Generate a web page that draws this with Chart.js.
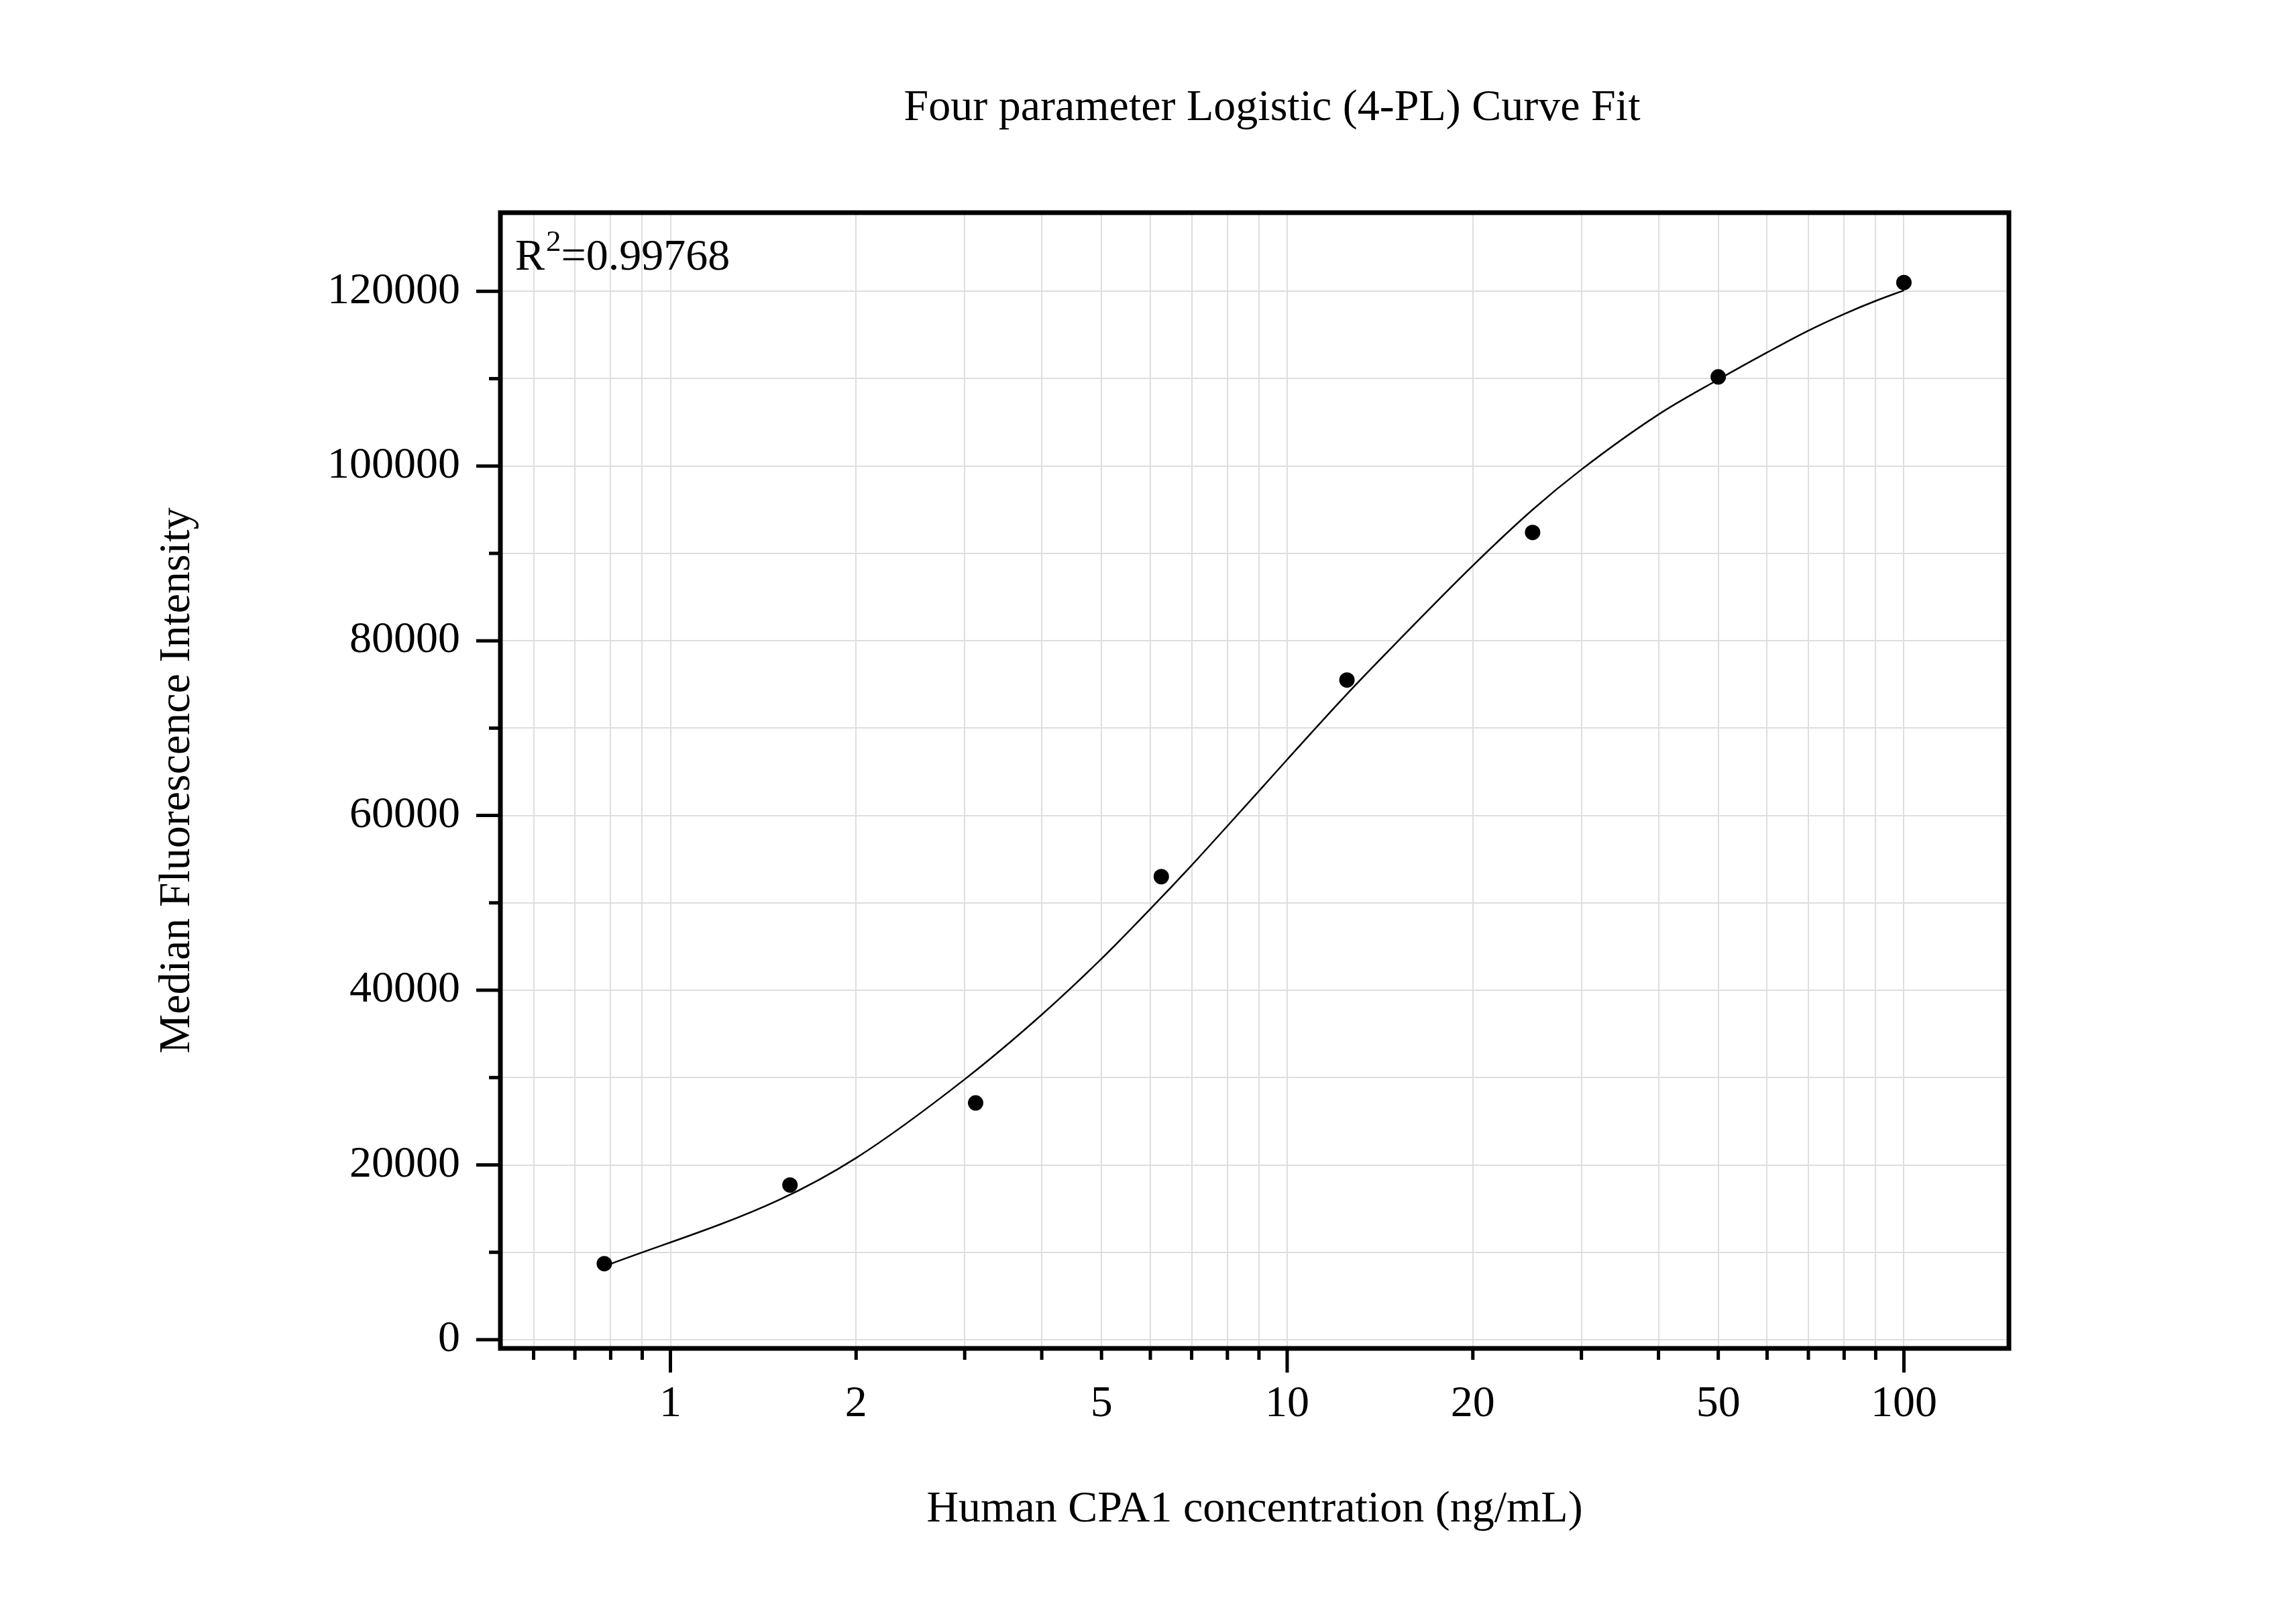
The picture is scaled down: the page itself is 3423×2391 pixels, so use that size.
<!DOCTYPE html>
<html>
<head>
<meta charset="UTF-8">
<title>Four parameter Logistic (4-PL) Curve Fit</title>
<script src="https://cdn.jsdelivr.net/npm/chart.js"></script>
<style>
  html, body { margin: 0; padding: 0; background: #fff; }
</style>
</head>
<body>
<canvas id="fitChart" width="3423" height="2391"></canvas>
<script>
// measured standards
const concentrations = [0.78125, 1.5625, 3.125, 6.25, 12.5, 25, 50, 100];
const intensities = [8700, 17700, 27100, 53000, 75500, 92400, 110200, 121000];

// fitted 4-PL curve
const curveX = [0.78125, 1.5, 2, 3, 4, 5, 6, 7, 8, 9, 10, 12.5, 15, 20, 25, 30, 40, 50, 60, 70, 80, 90, 100];
const curveY = [8400, 16000, 20800, 29800, 37200, 43600, 49300, 54300, 58800, 62800, 66400, 73900, 79700, 88600, 95000, 99600, 105900, 109900, 113000, 115500, 117400, 118900, 120100];

// axis ticks
const xGridValues = [0.6, 0.7, 0.8, 0.9, 1, 2, 3, 4, 5, 6, 7, 8, 9, 10, 20, 30, 40, 50, 60, 70, 80, 90, 100];
const xLabelValues = [1, 2, 5, 10, 20, 50, 100];
const xMajorValues = [1, 10, 100];
const yGridValues = [0, 10000, 20000, 30000, 40000, 50000, 60000, 70000, 80000, 90000, 100000, 110000, 120000];
const yLabelValues = [0, 20000, 40000, 60000, 80000, 100000, 120000];

const chartTitle = 'Four parameter Logistic (4-PL) Curve Fit';
const xTitle = 'Human CPA1 concentration (ng/mL)';
const yTitle = 'Median Fluorescence Intensity';
const rSquared = '0.99768';

const serif = '"Liberation Serif", "Times New Roman", serif';

const framePlugin = {
    id: 'frame',
    afterDraw(chart) {
        const { ctx, chartArea: a, scales } = chart;
        ctx.save();
        ctx.strokeStyle = '#000';
        ctx.fillStyle = '#000';

        // tick marks (outside, left and bottom)
        ctx.lineWidth = 5;
        ctx.lineCap = 'butt';
        yGridValues.forEach(v => {
            const y = scales.y.getPixelForValue(v);
            const len = yLabelValues.includes(v) ? 36 : 17;
            ctx.beginPath();
            ctx.moveTo(a.left - len, y);
            ctx.lineTo(a.left, y);
            ctx.stroke();
        });
        xGridValues.forEach(v => {
            const x = scales.x.getPixelForValue(v);
            const len = xMajorValues.includes(v) ? 36 : 17;
            ctx.beginPath();
            ctx.moveTo(x, a.bottom);
            ctx.lineTo(x, a.bottom + len);
            ctx.stroke();
        });

        // box
        ctx.lineWidth = 7;
        ctx.strokeRect(a.left, a.top, a.right - a.left, a.bottom - a.top);

        // title
        ctx.font = '66px ' + serif;
        ctx.textAlign = 'center';
        ctx.textBaseline = 'alphabetic';
        ctx.fillText(chartTitle, (a.left + a.right) / 2 + 26, a.top - 138);

        // R^2 note
        ctx.textAlign = 'left';
        let x = a.left + 22;
        const y = a.top + 85;
        ctx.fillText('R', x, y);
        x += ctx.measureText('R').width + 2;
        ctx.font = '45px ' + serif;
        ctx.fillText('2', x, y - 28);
        x += ctx.measureText('2').width;
        ctx.font = '66px ' + serif;
        ctx.fillText('=' + rSquared, x, y);
        ctx.restore();
    }
};

const ctx = document.getElementById('fitChart').getContext('2d');
new Chart(ctx, {
    type: 'scatter',
    data: {
        datasets: [
            {
                label: 'Standards',
                data: concentrations.map((c, i) => ({ x: c, y: intensities[i] })),
                backgroundColor: '#000',
                borderColor: '#000',
                borderWidth: 0,
                pointRadius: 11.5,
                showLine: false
            },
            {
                label: '4-PL fit',
                data: curveX.map((c, i) => ({ x: c, y: curveY[i] })),
                borderColor: '#000',
                borderWidth: 2.5,
                pointRadius: 0,
                showLine: true,
                fill: false,
                cubicInterpolationMode: 'monotone'
            }
        ]
    },
    options: {
        responsive: false,
        devicePixelRatio: 1,
        animation: false,
        layout: { padding: { left: 0, right: 428, top: 317, bottom: 0 } },
        plugins: {
            legend: { display: false },
            tooltip: { enabled: false }
        },
        scales: {
            x: {
                type: 'logarithmic',
                position: 'bottom',
                min: 0.53,
                max: 148,
                afterBuildTicks: scale => {
                    scale.ticks = xGridValues.map(v => ({ value: v }));
                },
                afterFit: scale => { scale.height = 381; },
                ticks: {
                    autoSkip: false,
                    maxRotation: 0,
                    padding: 44,
                    color: '#000',
                    font: { family: serif, size: 66 },
                    callback: v => xLabelValues.includes(v) ? String(v) : ''
                },
                grid: { color: '#dedede', lineWidth: 2, drawTicks: false },
                border: { display: false },
                title: {
                    display: true,
                    text: xTitle,
                    color: '#000',
                    font: { family: serif, size: 66 },
                    padding: { top: 0, bottom: 101 }
                }
            },
            y: {
                type: 'linear',
                min: -1000,
                max: 129000,
                afterBuildTicks: scale => {
                    scale.ticks = yGridValues.map(v => ({ value: v }));
                },
                afterFit: scale => { scale.width = 746; },
                ticks: {
                    padding: 60,
                    color: '#000',
                    font: { family: serif, size: 66 },
                    callback: v => yLabelValues.includes(v) ? String(v) : ''
                },
                grid: { color: '#dedede', lineWidth: 2, drawTicks: false },
                border: { display: false },
                title: {
                    display: true,
                    text: yTitle,
                    color: '#000',
                    font: { family: serif, size: 66 },
                    padding: { top: 225, bottom: 0 }
                }
            }
        }
    },
    plugins: [framePlugin]
});
</script>
</body>
</html>
